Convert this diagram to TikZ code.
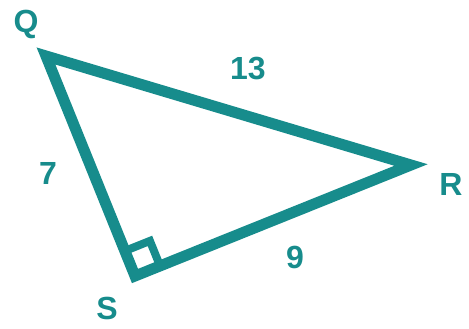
\documentclass[tikz,border=0pt]{standalone}
\usepackage{fontspec}
\setmainfont{Liberation Sans}
\usetikzlibrary{calc}
\definecolor{teal1}{RGB}{23,140,140}
\begin{document}
\begin{tikzpicture}[x=1pt,y=-1pt,
  side/.style={draw=teal1,line width=11pt,line join=miter},
  lbl/.style={text=teal1,font=\fontsize{32}{36}\selectfont\bfseries,inner sep=0pt}]
\useasboundingbox (0,0) rectangle (469,329);
\coordinate (Q) at (46,56);
\coordinate (R) at (411,165);
\coordinate (S) at (135,276);
\draw[side] (Q) -- (R) -- (S) -- cycle;
\coordinate (A) at ($(S)!27pt!(Q)$);
\coordinate (B) at ($(S)!27pt!(R)$);
\coordinate (C) at ($(A)+(B)-(S)$);
\draw[draw=teal1,line width=8pt,line join=miter] (A) -- (C) -- (B);
\node[lbl] (lq) at (26,24) {Q};
\node[lbl] (l13) at (248,69) {13};
\node[lbl] (l7) at (48,173) {7};
\node[lbl] (lr) at (451,184) {R};
\node[lbl] (l9) at (295,257) {9};
\node[lbl] (ls) at (107,308) {S};
\end{tikzpicture}
\end{document}
